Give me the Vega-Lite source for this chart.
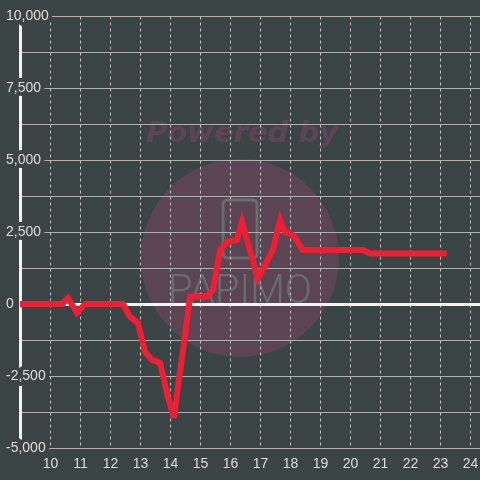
{
  "$schema": "https://vega.github.io/schema/vega-lite/v6.json",
  "width": 460,
  "height": 432,
  "autosize": {"type": "none"},
  "padding": {"left": 20, "top": 16, "right": 0, "bottom": 32},
  "background": "#3c4545",
  "config": {
    "view": {"stroke": null},
    "font": "Liberation Sans",
    "axis": {"ticks": false, "tickSize": 0, "title": null, "labelColor": "#dedede", "labelFontSize": 14, "labelFont": "Liberation Sans"},
    "axisX": {"labelOverlap": false, "labelBound": false, "labelFlush": false}
  },
  "datasets": {
    "series": [
      {"h": 9.0, "v": 0}, {"h": 10.4, "v": 0}, {"h": 10.6, "v": 200}, {"h": 10.9, "v": -300},
      {"h": 11.17, "v": 0}, {"h": 12.43, "v": 0}, {"h": 12.67, "v": -450}, {"h": 12.93, "v": -660},
      {"h": 13.17, "v": -1670}, {"h": 13.4, "v": -1940}, {"h": 13.67, "v": -2050}, {"h": 13.93, "v": -3230},
      {"h": 14.13, "v": -3950}, {"h": 14.67, "v": 250}, {"h": 15.23, "v": 250}, {"h": 15.43, "v": 480},
      {"h": 15.67, "v": 1875}, {"h": 15.9, "v": 2150}, {"h": 16.23, "v": 2220}, {"h": 16.4, "v": 2850},
      {"h": 16.93, "v": 870}, {"h": 17.43, "v": 1875}, {"h": 17.67, "v": 2920}, {"h": 17.83, "v": 2500},
      {"h": 18.1, "v": 2400}, {"h": 18.43, "v": 1875}, {"h": 20.43, "v": 1875}, {"h": 20.67, "v": 1750},
      {"h": 23.23, "v": 1750}
    ],
    "ylabels": [
      {"h": 9, "v": -5000, "t": "-5,000"}, {"h": 9, "v": -2500, "t": "-2,500"}, {"h": 9, "v": 0, "t": "0"},
      {"h": 9, "v": 2500, "t": "2,500"}, {"h": 9, "v": 5000, "t": "5,000"}, {"h": 9, "v": 7500, "t": "7,500"},
      {"h": 9, "v": 10000, "t": "10,000"}
    ],
    "badge": [{"h": 16.33, "v": 1600}],
    "caption": [{"h": 16.4, "v": 5940, "t": "Powered by"}],
    "logo": [{"h": 16.33, "v": 450, "t": "PAPIMO"}],
    "phone": [{"h": 15.77, "h2": 16.9, "v": 3610, "v2": 1600}]
  },
  "encoding": {
    "x": {"field": "h", "type": "quantitative", "scale": {"domain": [9, 24.333], "nice": false, "zero": false},
      "axis": {"values": [10, 11, 12, 13, 14, 15, 16, 17, 18, 19, 20, 21, 22, 23, 24], "tickCount": 15, "labelOverlap": false, "grid": true, "gridColor": "#c4c4c4", "gridDash": [3, 3], "gridWidth": 1, "domain": false, "labelPadding": 8, "labelBaseline": "top"}},
    "y": {"field": "v", "type": "quantitative", "scale": {"domain": [-5000, 10000], "nice": false, "zero": false},
      "axis": {"values": [-5000, -3750, -2500, -1250, 0, 1250, 2500, 3750, 5000, 6250, 7500, 8750, 10000],
        "labels": false, "grid": true,
        "gridColor": {"condition": {"test": "datum.value === 0", "value": "#f4f4f4"}, "value": "#b0b0b0"},
        "gridWidth": {"condition": {"test": "datum.value === 0", "value": 3}, "value": 1},
        "domain": true, "domainColor": "#f2f2f2", "domainWidth": 3}}
  },
  "layer": [
    {
      "data": {"name": "badge"},
      "mark": {"type": "point", "filled": true, "shape": "circle", "size": 39200, "color": "#5b4152", "opacity": 1, "blend": "lighten"}
    },
    {
      "data": {"name": "caption"},
      "mark": {"type": "text", "font": "DejaVu Sans", "fontStyle": "italic", "fontWeight": "bold", "fontSize": 29, "color": "#5d3b55", "blend": "lighten", "baseline": "middle", "align": "center"},
      "encoding": {"text": {"field": "t"}}
    },
    {
      "data": {"name": "phone"},
      "mark": {"type": "rect", "fill": null, "stroke": "#686d6e", "strokeWidth": 3, "cornerRadius": 4, "blend": "lighten"},
      "encoding": {"x2": {"field": "h2"}, "y2": {"field": "v2"}}
    },
    {
      "data": {"name": "logo"},
      "mark": {"type": "text", "font": "Roboto", "fontWeight": 300, "fontSize": 40, "color": "#686d6e", "blend": "lighten", "baseline": "middle", "align": "center"},
      "encoding": {"text": {"field": "t"}}
    },
    {
      "data": {"name": "ylabels"},
      "mark": {"type": "text", "font": "Liberation Sans", "fontSize": 14, "align": "left", "baseline": "middle", "dx": -14, "fill": "#3c4545", "stroke": "#3c4545", "strokeWidth": 8, "strokeJoin": "round"},
      "encoding": {"text": {"field": "t"}}
    },
    {
      "data": {"name": "ylabels"},
      "mark": {"type": "text", "font": "Liberation Sans", "fontSize": 14, "align": "left", "baseline": "middle", "dx": -14, "fill": "#dedede"},
      "encoding": {"text": {"field": "t"}}
    },
    {
      "data": {"name": "series"},
      "mark": {"type": "line", "color": "#ec1f35", "strokeWidth": 6, "strokeJoin": "miter"}
    }
  ]
}
